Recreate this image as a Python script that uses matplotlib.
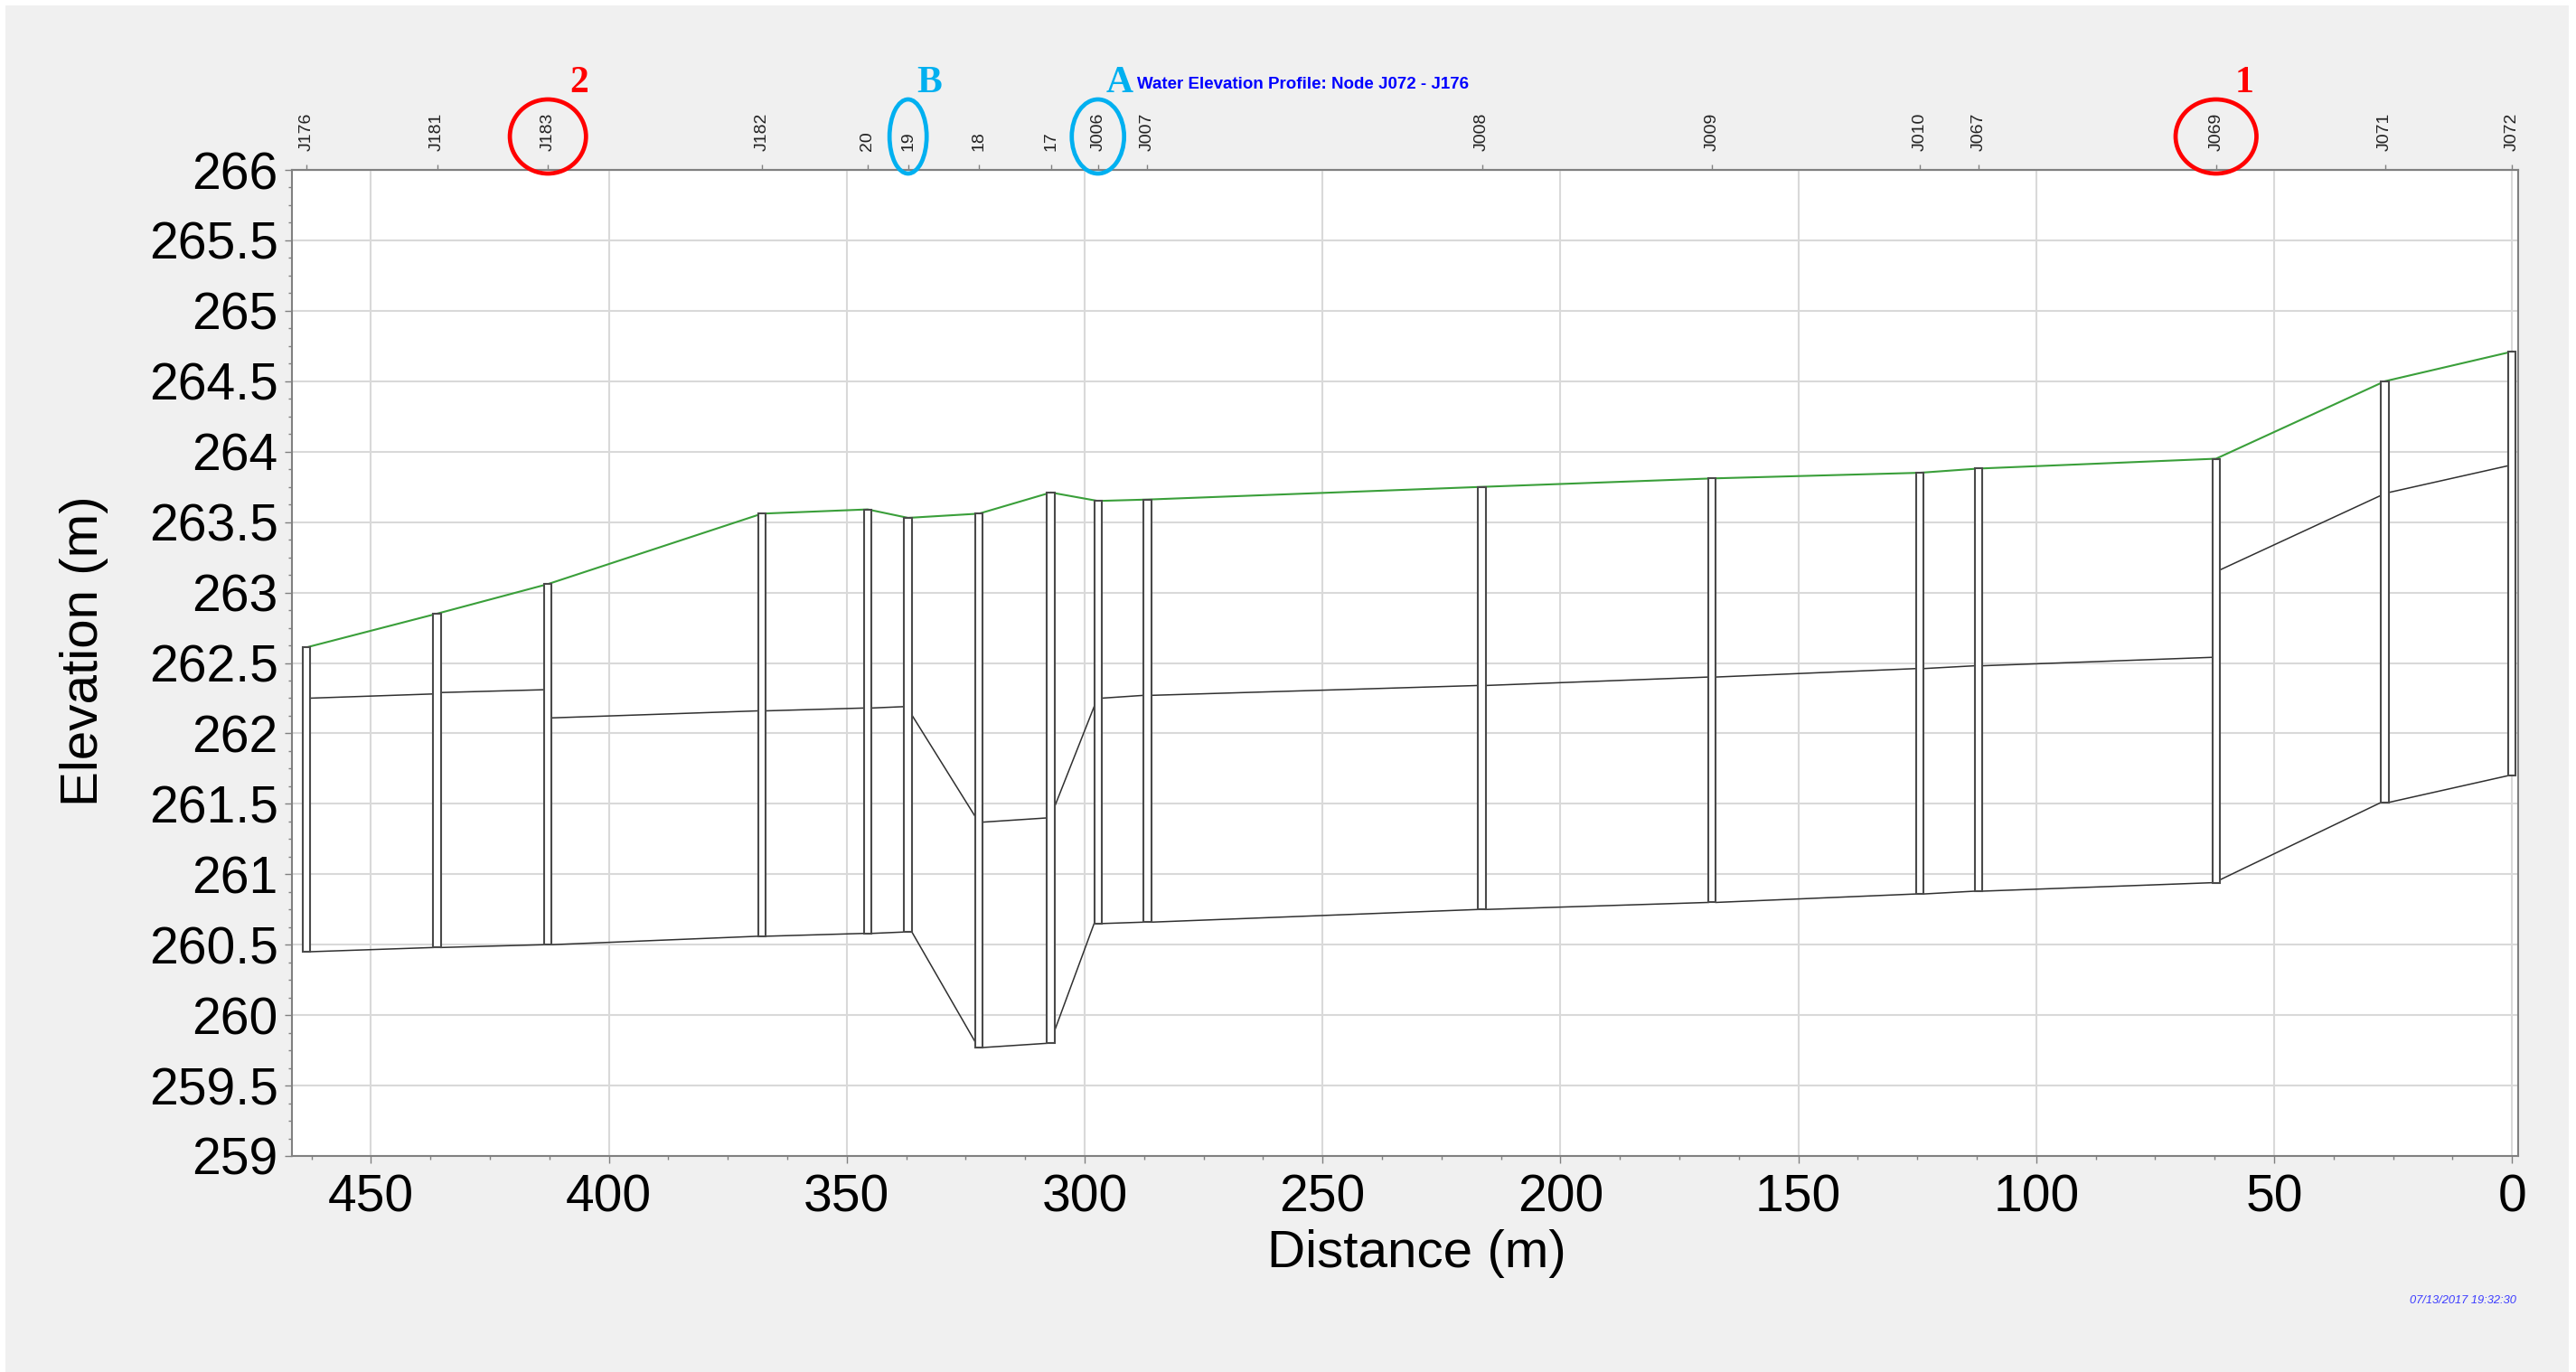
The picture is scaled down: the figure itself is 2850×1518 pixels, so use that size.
import matplotlib
matplotlib.use('Agg')
import matplotlib.pyplot as plt
import matplotlib.transforms as mtransforms
from matplotlib.patches import Ellipse, Rectangle
from matplotlib.ticker import MultipleLocator, FuncFormatter
import numpy as np

plt.rcParams['font.family'] = ['Liberation Sans', 'DejaVu Sans']

# ---------------- data ----------------
node_names = ['J176', 'J181', 'J183', 'J182', '20', '19', '18', '17', 'J006',
              'J007', 'J008', 'J009', 'J010', 'J067', 'J069', 'J071', 'J072']
node_dist = [463.6, 436.1, 412.8, 367.8, 345.6, 337.1, 322.2, 307.1, 297.2,
             286.8, 216.5, 168.1, 124.5, 112.1, 62.2, 26.7, 0.0]
node_ground = [262.61, 262.85, 263.06, 263.56, 263.59, 263.53, 263.56, 263.71, 263.65,
               263.66, 263.75, 263.81, 263.85, 263.88, 263.95, 264.50, 264.71]
node_invert = [260.45, 260.48, 260.50, 260.56, 260.58, 260.59, 259.77, 259.80, 260.65,
               260.66, 260.75, 260.80, 260.86, 260.88, 260.94, 261.51, 261.70]

# links between consecutive nodes (left node -> right node)
link_invert_start = [260.45, 260.48, 260.50, 260.56, 260.58, 260.59, 259.77, 259.89,
                     260.65, 260.66, 260.75, 260.80, 260.86, 260.88, 260.96, 261.51]
link_invert_end = [260.48, 260.50, 260.56, 260.58, 260.59, 259.81, 259.80, 260.65,
                   260.66, 260.75, 260.80, 260.86, 260.88, 260.94, 261.51, 261.70]
link_crown_start = [262.25, 262.29, 262.11, 262.16, 262.18, 262.13, 261.37, 261.48,
                    262.25, 262.27, 262.34, 262.40, 262.46, 262.48, 263.16, 263.71]
link_crown_end = [262.28, 262.31, 262.16, 262.18, 262.19, 261.41, 261.40, 262.19,
                  262.27, 262.34, 262.40, 262.46, 262.48, 262.54, 263.69, 263.90]

x_ticks = [0, 50, 100, 150, 200, 250, 300, 350, 400, 450]
y_ticks = [259, 259.5, 260, 260.5, 261, 261.5, 262, 262.5, 263, 263.5, 264, 264.5, 265, 265.5, 266]

# annotation marks (node, text, colour)
marks = [('J183', '2', '#ff0000'), ('19', 'B', '#00b0f0'),
         ('J006', 'A', '#00b0f0'), ('J069', '1', '#ff0000')]

title = 'Water Elevation Profile: Node J072 - J176'
timestamp = '07/13/2017 19:32:30'

# ---------------- figure ----------------
W, H = 2850, 1518
fig = plt.figure(figsize=(W / 100, H / 100), dpi=100, facecolor='white')
fig.patches.append(Rectangle((6 / W, 0), (2842 - 6) / W, (H - 6) / H,
                             transform=fig.transFigure, facecolor='#f0f0f0',
                             edgecolor='none', zorder=-10))

ax = fig.add_axes([323 / W, 1 - 1279 / H, (2786 - 323) / W, (1279 - 188) / H])
ax.set_facecolor('white')

gray = '#808080'
mh_w = 1.6
hw = mh_w / 2

# ground line
ax.plot(node_dist, node_ground, color='#3a9f3a', lw=1.5, zorder=3)

# pipes
for i in range(len(link_invert_start)):
    x0 = node_dist[i] - hw
    x1 = node_dist[i + 1] + hw
    ax.plot([x0, x1], [link_invert_start[i], link_invert_end[i]], color='#303030', lw=1.1, zorder=3)
    ax.plot([x0, x1], [link_crown_start[i], link_crown_end[i]], color='#303030', lw=1.1, zorder=3)

# manholes
heights = np.array(node_ground) - np.array(node_invert)
ax.bar(node_dist, heights, bottom=node_invert, width=mh_w, color='white',
       edgecolor='#4a4a4a', linewidth=1.5, zorder=4)

ax.set_xlim(466.6, -1.3)
ax.set_ylim(259, 266)
ax.set_xticks(x_ticks)
ax.set_yticks(y_ticks)
ax.xaxis.set_minor_locator(MultipleLocator(12.5))
ax.yaxis.set_minor_locator(MultipleLocator(0.125))
ax.yaxis.set_major_formatter(FuncFormatter(lambda v, p: f'{v:g}'))
ax.xaxis.set_major_formatter(FuncFormatter(lambda v, p: f'{v:g}'))

ax.grid(True, which='major', color='#d9d9d9', lw=1.5)
ax.set_axisbelow(True)

for s in ax.spines.values():
    s.set_color(gray)
    s.set_linewidth(1.5)

ax.tick_params(axis='both', which='major', length=6, width=1, color=gray, labelsize=41)
ax.tick_params(axis='both', which='minor', length=3, width=1, color=gray)
ax.tick_params(axis='y', which='major', pad=5)
ax.tick_params(axis='x', which='major', pad=8)

ax.set_xlabel('Distance (m)', fontsize=42, va='center')
ax.xaxis.set_label_coords((1567 - 323) / (2786 - 323), (1279 - 1387) / (1279 - 188))
ax.set_ylabel('Elevation (m)', fontsize=42, va='center')
ax.yaxis.set_label_coords((93 - 323) / (2786 - 323), (1279 - 720) / (1279 - 188))

# node labels on top
secax = ax.secondary_xaxis('top')
secax.set_xticks(node_dist, labels=node_names)
secax.tick_params(axis='x', which='major', rotation=90, labelsize=14, length=4,
                  width=1, color=gray, labelcolor='#222222', pad=11)
secax.tick_params(axis='x', which='minor', length=0)
secax.spines['top'].set_color(gray)
secax.spines['top'].set_linewidth(1.5)

# title and timestamp
fig.text(1258 / W, 1 - 93 / H, title, ha='left', va='center', fontsize=13.5,
         fontweight='bold', color='#0000ff')
fig.text(2784 / W, 1 - 1439 / H, timestamp, ha='right', va='center', fontsize=9.3,
         style='italic', color='#3c3cff')

# annotation ellipses and letters
trans = mtransforms.blended_transform_factory(ax.transData, fig.transFigure)
ell_w = {'J183': 16.0, '19': 7.8, 'J006': 11.0, 'J069': 17.0}
txt_off = {'J183': 6.6, '19': 4.5, 'J006': 4.6, 'J069': 6.0}
for node, lab, col in marks:
    d = node_dist[node_names.index(node)]
    fig.add_artist(Ellipse((d, 1 - 151 / H), ell_w[node], 82 / H, transform=trans,
                           fill=False, edgecolor=col, lw=3.4))
    fig.text(d - txt_off[node], 1 - 92 / H, lab, transform=trans, ha='center', va='center',
             fontsize=30, fontweight='bold', color=col, family='Liberation Serif')

fig.savefig('out.png', dpi=100, facecolor=fig.get_facecolor())
